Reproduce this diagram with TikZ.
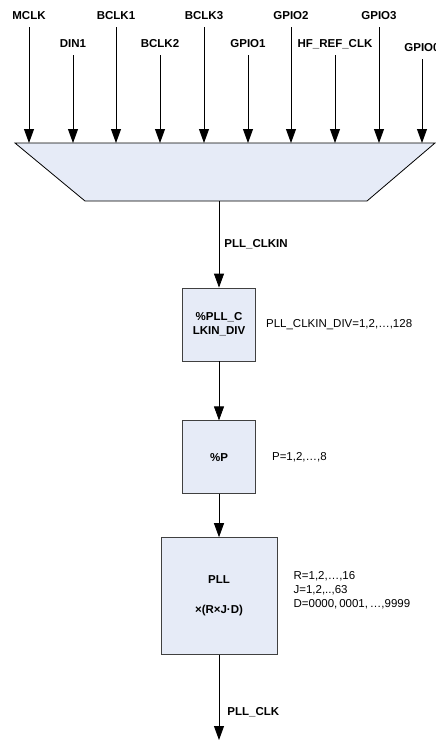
\documentclass[tikz,border=0pt]{standalone}
\usepackage{fontspec}
\setmainfont{Liberation Sans}
\usetikzlibrary{arrows.meta, positioning}
\definecolor{pllfill}{HTML}{E6EBF7}
\definecolor{pllline}{HTML}{404040}
\tikzset{
  insig/.style={font=\fontsize{11.5}{14}\selectfont\bfseries, text height=8.2pt, text depth=0pt,
    inner xsep=0pt, inner ysep=7.9pt},
  blk/.style={rectangle, draw=pllline, line width=0.8pt, fill=pllfill, minimum width=73pt,
    minimum height=73pt, inner sep=0pt, font=\fontsize{11.5}{14}\selectfont\bfseries, align=center},
  note/.style={font=\fontsize{11.5}{14}\selectfont, align=left, inner sep=0pt},
  sig/.style={font=\fontsize{11.5}{14}\selectfont\bfseries, inner sep=5pt},
  arr/.style={-{Triangle[length=14pt, width=10pt]}, line width=0.8pt, black},
}

\begin{document}
\begin{tikzpicture}[x=1pt, y=-1pt]
    \useasboundingbox (0,0) rectangle (436,740);
    % Clock source mux
    \draw[fill=pllfill, line width=0.8pt] (15,143) -- (435,143) -- (367,201) -- (85,201) -- cycle;
    \coordinate (muxtop) at (0,143);
    \coordinate (muxout) at (219,201);
    % Inputs
    \foreach \x/\y/\nm/\txt in {29/15/mclk/MCLK, 73/43/din/DIN1, 116/15/bclka/BCLK1, 160/43/bclkb/BCLK2,
        204/15/bclkc/BCLK3, 248/43/gpioa/GPIO1, 291/15/gpiob/GPIO2, 335/43/hfref/HF\_REF\_CLK,
        379/15/gpioc/GPIO3, 422/47/gpiod/GPIO0} {
      \node[insig] (\nm) at (\x,\y) {\txt};
      \draw[arr] (\nm) -- (\nm |- muxtop);
    }
    % Dividers and PLL
    \node[blk] (clkdiv) at (219,324.5) {\%PLL\_C\\LKIN\_DIV};
    \node[blk, below=59pt of clkdiv] (pdiv) {\%P};
    \node[blk, below=43pt of pdiv, minimum width=116pt, minimum height=117pt] (pll) {PLL\\[16pt]×(R×J·D)};
    \coordinate[below=85pt of pll] (pllout);

    \draw[arr] (muxout) -- (clkdiv) node[sig, midway, right] {PLL\_CLKIN};
    \draw[arr] (clkdiv) -- (pdiv);
    \draw[arr] (pdiv) -- (pll);
    \draw[arr] (pll) -- (pllout) node[sig, pos=0.67, right, xshift=3pt] {PLL\_CLK};

    % Ranges
    \node[note, right=10pt of clkdiv] (divrange) {PLL\_CLKIN\_DIV=1,2,…,128};
    \node[note, right=16pt of pdiv] (prange) {P=1,2,…,8};
    \node[note, right=16pt of pll, yshift=5.5pt] (pllrange) {R=1,2,…,16\\J=1,2,..,63\\D=0000,\,0001,\,…,9999};
\end{tikzpicture}
\end{document}
